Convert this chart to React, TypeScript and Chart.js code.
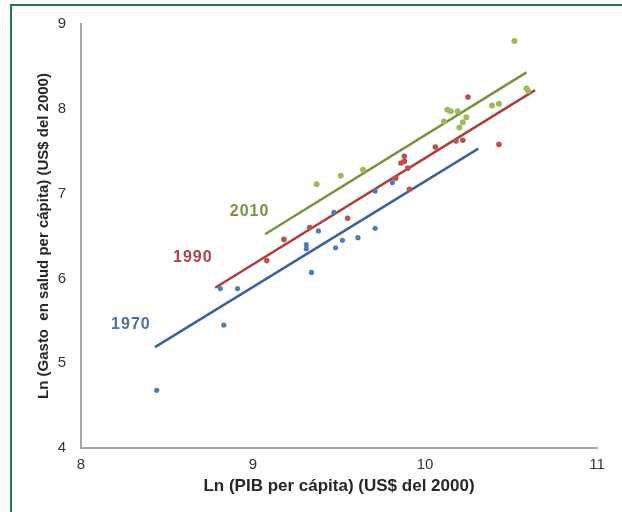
import React, { useEffect, useRef } from "react";
import { Chart, registerables } from "chart.js";

Chart.register(...registerables);

// Axis ranges and ticks
const xMin = 8;
const xMax = 11;
const yMin = 4;
const yMax = 9;

// Titles
const xTitle = "Ln (PIB per cápita) (US$ del 2000)";
const yTitle = "Ln (Gasto  en salud per cápita) (US$ del 2000)";

// 1970 observations
const gdp1970 = [8.44, 8.81, 8.91, 8.83, 9.31, 9.31, 9.34, 9.38, 9.48, 9.52, 9.61, 9.71, 9.47, 9.71, 9.81];
const health1970 = [4.68, 5.88, 5.88, 5.45, 6.4, 6.35, 6.07, 6.56, 6.36, 6.45, 6.48, 6.59, 6.78, 7.03, 7.13];

// 1990 observations
const gdp1990 = [9.08, 9.18, 9.33, 9.55, 9.83, 9.86, 9.88, 9.88, 9.9, 9.91, 10.06, 10.18, 10.22, 10.43, 10.25];
const health1990 = [6.21, 6.46, 6.6, 6.71, 7.18, 7.36, 7.38, 7.44, 7.3, 7.05, 7.55, 7.62, 7.63, 7.58, 8.14];

// 2010 observations
const gdp2010 = [9.37, 9.51, 9.64, 10.11, 10.13, 10.15, 10.19, 10.24, 10.22, 10.2, 10.39, 10.43, 10.52, 10.59, 10.6];
const health2010 = [7.11, 7.21, 7.28, 7.85, 7.99, 7.97, 7.97, 7.9, 7.84, 7.78, 8.04, 8.06, 8.8, 8.24, 8.21];

// Fitted lines (start and end)
const trend1970X = [8.43, 10.31];
const trend1970Y = [5.19, 7.53];
const trend1990X = [8.78, 10.64];
const trend1990Y = [5.89, 8.22];
const trend2010X = [9.07, 10.59];
const trend2010Y = [6.52, 8.43];

// Year annotations
const yearLabels = ["1970", "1990", "2010"];
const yearLabelX = [8.29, 8.65, 8.98];
const yearLabelY = [5.46, 6.24, 6.79];

const pointColors = ["#4a7ebb", "#c0504d", "#9bbb59"];
const lineColors = ["#3b62a0", "#b03c3a", "#77933c"];
const labelColors = ["#4a6fa5", "#b0413e", "#77933c"];

const toXY = (xs: number[], ys: number[]) => xs.map((x, i) => ({ x, y: ys[i] }));

const FONT = "'Liberation Sans', Arial, sans-serif";

const yearLabelPlugin = {
  id: "yearLabels",
  afterDatasetsDraw(chart: any) {
    const { ctx, scales } = chart;
    const xs = scales.x;
    const ys = scales.y;
    ctx.save();
    ctx.font = `bold 16px ${FONT}`;
    (ctx as any).letterSpacing = "1px";
    ctx.textAlign = "center";
    ctx.textBaseline = "middle";
    yearLabels.forEach((t, i) => {
      ctx.fillStyle = labelColors[i];
      ctx.fillText(t, xs.getPixelForValue(yearLabelX[i]), ys.getPixelForValue(yearLabelY[i]));
    });
    ctx.restore();
  },
};

export default function App() {
  const canvasRef = useRef<HTMLCanvasElement | null>(null);

  useEffect(() => {
    if (!canvasRef.current) return;
    const series = [
      { xs: gdp1970, ys: health1970, tx: trend1970X, ty: trend1970Y, r: 2.6 },
      { xs: gdp1990, ys: health1990, tx: trend1990X, ty: trend1990Y, r: 2.8 },
      { xs: gdp2010, ys: health2010, tx: trend2010X, ty: trend2010Y, r: 3 },
    ];
    const datasets: any[] = [];
    series.forEach((s, i) => {
      datasets.push({
        label: yearLabels[i] + " tendencia",
        data: toXY(s.tx, s.ty),
        showLine: true,
        borderColor: lineColors[i],
        borderWidth: 2.5,
        pointRadius: 0,
        order: 2,
      });
      datasets.push({
        label: yearLabels[i],
        data: toXY(s.xs, s.ys),
        showLine: false,
        backgroundColor: pointColors[i],
        borderWidth: 0,
        pointRadius: s.r,
        order: 1,
      });
    });

    const chart = new Chart(canvasRef.current, {
      type: "scatter",
      data: { datasets },
      options: {
        animation: false,
        responsive: false,
        devicePixelRatio: 1,
        layout: { padding: { top: 22, right: 25, left: 0, bottom: 0 } },
        plugins: {
          legend: { display: false },
          tooltip: { enabled: false },
        },
        scales: {
          x: {
            type: "linear",
            min: xMin,
            max: xMax,
            ticks: {
              stepSize: 1,
              padding: 8,
              color: "#333333",
              font: { family: FONT, size: 15 },
            },
            grid: { display: true, color: "rgba(0,0,0,0)", drawTicks: false },
            border: { display: true, color: "#a6a6a6", width: 2 },
            title: {
              display: true,
              text: xTitle,
              color: "#262626",
              font: { family: FONT, size: 17, weight: "bold" },
              padding: { top: 0, bottom: 15 },
            },
            afterFit: (scale: any) => {
              scale.height = 64;
            },
          },
          y: {
            type: "linear",
            min: yMin,
            max: yMax,
            ticks: {
              stepSize: 1,
              padding: 15,
              color: "#333333",
              font: { family: FONT, size: 15 },
            },
            grid: { display: true, color: "rgba(0,0,0,0)", drawTicks: false },
            border: { display: true, color: "#a6a6a6", width: 2 },
            title: {
              display: true,
              text: yTitle,
              color: "#262626",
              font: { family: FONT, size: 15, weight: "bold" },
              padding: { top: 35, bottom: 0 },
            },
            afterFit: (scale: any) => {
              scale.width = 81;
            },
          },
        },
      },
      plugins: [yearLabelPlugin],
    } as any);

    return () => chart.destroy();
  }, []);

  return (
    <div
      style={{
        position: "absolute",
        left: 0,
        top: 0,
        width: 622,
        height: 512,
        overflow: "hidden",
        background: "#ffffff",
      }}
    >
      <div
        style={{
          position: "absolute",
          left: 10,
          top: 4,
          width: 640,
          height: 540,
          border: "2px solid #1e7b43",
          boxSizing: "border-box",
        }}
      />
      <canvas
        ref={canvasRef}
        width={622}
        height={512}
        style={{ position: "absolute", left: 0, top: 0, width: 622, height: 512 }}
      />
    </div>
  );
}
